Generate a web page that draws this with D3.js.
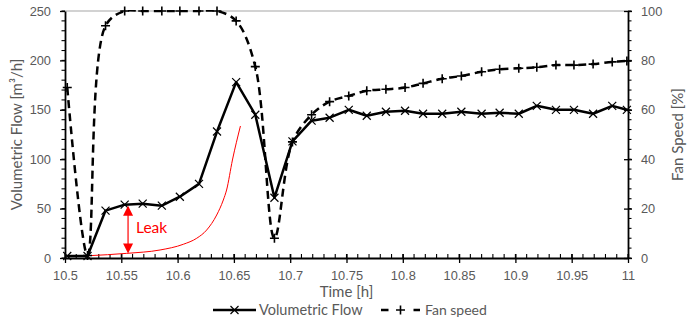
<!DOCTYPE html>
<html>
<head>
<meta charset="utf-8">
<script src="https://cdn.jsdelivr.net/npm/d3@7"></script>
<style>
  html, body { margin: 0; padding: 0; background: #fff; }
  svg { display: block; font-family: Lato, "Open Sans", sans-serif; }
</style>
</head>
<body>
<svg id="chart" width="688" height="320"></svg>
<script>
// Sample times [h]
const times = [10.502, 10.520, 10.536, 10.553, 10.569, 10.586, 10.602, 10.619, 10.635, 10.652,
               10.669, 10.686, 10.702, 10.719, 10.735, 10.752, 10.768, 10.785, 10.802, 10.818,
               10.835, 10.852, 10.870, 10.886, 10.903, 10.919, 10.936, 10.952, 10.969, 10.986, 10.999];
// Volumetric flow [m³/h]
const flow = [2, 2, 48, 54, 55, 53, 62, 75, 128, 178,
              145, 61, 118, 139, 142, 150, 144, 148, 149, 146,
              146, 148, 146, 147, 146, 154, 150, 150, 146, 154, 150];
// Fan speed [%]
const fanSpeed = [69, 1, 94, 100, 100, 100, 100, 100, 100, 96,
                  77.5, 8, 47, 58, 63.3, 65.6, 67.7, 68.3, 69, 70.7,
                  72.6, 73.7, 75.4, 76.4, 76.8, 77.2, 78.1, 78.1, 78.5, 79.4, 79.8];
// Leak baseline curve (time, flow)
const leakTimes = [10.5207, 10.5548, 10.5844, 10.6051, 10.617, 10.6258, 10.6347, 10.6406, 10.6435, 10.6487, 10.6558];
const leakFlow  = [2.3, 4.7, 8.1, 13.9, 20, 28.3, 43.5, 58.7, 68.8, 99.2, 133.6];
// Leak arrow: time and flow span
const leakArrowTime = 10.556;
const leakArrowSpan = [53, 4.5];

const xTicks = [10.5, 10.55, 10.6, 10.65, 10.7, 10.75, 10.8, 10.85, 10.9, 10.95, 11];
const yLeftTicks = [0, 50, 100, 150, 200, 250];
const yRightTicks = [0, 20, 40, 60, 80, 100];

const svg = d3.select("#chart");
const L = 65, R = 628, T = 11, B = 258;

const x = d3.scaleLinear().domain([10.5, 11]).range([L, R]);
const yL = d3.scaleLinear().domain([0, 250]).range([B, T]);
const yR = d3.scaleLinear().domain([0, 100]).range([B, T]);

const labelColor = "#595959";

// clip region for data lines
svg.append("defs").append("clipPath").attr("id", "plotClip")
  .append("rect").attr("x", L).attr("y", T - 1).attr("width", R - L).attr("height", B - T + 1);

// top border of plot area
svg.append("line").attr("x1", L).attr("x2", R).attr("y1", T).attr("y2", T)
  .attr("stroke", "#a6a6a6").attr("stroke-width", 1.2);

// --- Axes ---
function styleAxis(g) {
  g.select(".domain").attr("stroke", "#000").attr("stroke-width", 1.8);
  g.selectAll(".tick line").attr("stroke", "#000").attr("stroke-width", 1.3);
  g.selectAll(".tick text").attr("fill", labelColor).style("font-size", "12.8px");
}

// minor ticks
const xMinor = d3.range(10.5, 11.0001, 0.01);
svg.append("g").selectAll("line").data(xMinor).join("line")
  .attr("x1", d => x(d)).attr("x2", d => x(d)).attr("y1", B).attr("y2", B - 4)
  .attr("stroke", "#000").attr("stroke-width", 1.1);
const yLMinor = d3.range(0, 251, 10);
svg.append("g").selectAll("line").data(yLMinor).join("line")
  .attr("x1", L).attr("x2", L - 3.5).attr("y1", d => yL(d)).attr("y2", d => yL(d))
  .attr("stroke", "#000").attr("stroke-width", 1.1);
const yRMinor = d3.range(0, 101, 4);
svg.append("g").selectAll("line").data(yRMinor).join("line")
  .attr("x1", R).attr("x2", R + 3.5).attr("y1", d => yR(d)).attr("y2", d => yR(d))
  .attr("stroke", "#000").attr("stroke-width", 1.1);

const gx = svg.append("g").attr("transform", `translate(0,${B})`)
  .call(d3.axisBottom(x).tickValues(xTicks).tickFormat(d => d3.format("")(+d.toFixed(2)))
        .tickSizeInner(5).tickSizeOuter(0).tickPadding(8));
styleAxis(gx);
gx.selectAll(".tick line").attr("y1", -4);

const gyL = svg.append("g").attr("transform", `translate(${L},0)`)
  .call(d3.axisLeft(yL).tickValues(yLeftTicks).tickSizeInner(5).tickSizeOuter(0).tickPadding(9));
styleAxis(gyL);

const gyR = svg.append("g").attr("transform", `translate(${R},0)`)
  .call(d3.axisRight(yR).tickValues(yRightTicks).tickSizeInner(4).tickSizeOuter(0).tickPadding(9));
styleAxis(gyR);
gyR.selectAll(".tick line").attr("x1", -4);

// axis titles
svg.append("text").attr("x", (L + R) / 2).attr("y", 297).attr("text-anchor", "middle")
  .attr("fill", labelColor).style("font-size", "15px").text("Time [h]");
svg.append("text").attr("transform", `translate(22,${(T + B) / 2}) rotate(-90)`)
  .attr("text-anchor", "middle").attr("fill", labelColor).style("font-size", "15px")
  .text("Volumetric Flow [m³/h]");
svg.append("text").attr("transform", `translate(683,${(T + B) / 2}) rotate(-90)`)
  .attr("text-anchor", "middle").attr("fill", labelColor).style("font-size", "15px")
  .text("Fan Speed [%]");

const plot = svg.append("g").attr("clip-path", "url(#plotClip)");

// --- Leak baseline (red) ---
const leakPts = leakTimes.map((t, i) => [t, leakFlow[i]]);
plot.append("path")
  .attr("d", d3.line().x(d => x(d[0])).y(d => yL(d[1])).curve(d3.curveMonotoneX)(leakPts))
  .attr("fill", "none").attr("stroke", "#ff0000").attr("stroke-width", 1);

// --- Fan speed (dashed, smoothed) ---
const fanPts = times.map((t, i) => [t, fanSpeed[i]]);
plot.append("path")
  .attr("d", d3.line().x(d => x(d[0])).y(d => yR(d[1])).curve(d3.curveCatmullRom.alpha(0.5))(fanPts))
  .attr("fill", "none").attr("stroke", "#000").attr("stroke-width", 2.5)
  .attr("stroke-dasharray", "8,5");

// --- Volumetric flow ---
const flowPts = times.map((t, i) => [t, flow[i]]);
svg.append("path")
  .attr("d", d3.line().x(d => x(d[0])).y(d => yL(d[1]))(flowPts))
  .attr("fill", "none").attr("stroke", "#000").attr("stroke-width", 2.5)
  .attr("stroke-linejoin", "round");

// markers
const xMark = (cx, cy, s) => `M${cx - s},${cy - s}L${cx + s},${cy + s}M${cx - s},${cy + s}L${cx + s},${cy - s}`;
const plusMark = (cx, cy, s) => `M${cx - s},${cy}L${cx + s},${cy}M${cx},${cy - s}L${cx},${cy + s}`;

svg.append("g").selectAll("path").data(fanPts).join("path")
  .attr("d", d => plusMark(x(d[0]), yR(d[1]), 4.5))
  .attr("stroke", "#000").attr("stroke-width", 1.6).attr("fill", "none");
svg.append("g").selectAll("path").data(flowPts).join("path")
  .attr("d", d => xMark(x(d[0]), yL(d[1]), 4))
  .attr("stroke", "#000").attr("stroke-width", 1.2).attr("fill", "none");

// --- Leak arrow annotation ---
const ax = x(leakArrowTime);
const ay1 = yL(leakArrowSpan[0]), ay2 = yL(leakArrowSpan[1]);
svg.append("line").attr("x1", ax).attr("x2", ax).attr("y1", ay1 + 9).attr("y2", ay2 - 9)
  .attr("stroke", "#ff0000").attr("stroke-width", 1.2);
svg.append("path").attr("d", `M${ax},${ay1}L${ax - 5},${ay1 + 10}L${ax + 5},${ay1 + 10}Z`).attr("fill", "#ff0000");
svg.append("path").attr("d", `M${ax},${ay2}L${ax - 5},${ay2 - 10}L${ax + 5},${ay2 - 10}Z`).attr("fill", "#ff0000");
svg.append("text").attr("x", ax + 8).attr("y", 233).attr("fill", "#ff0000")
  .style("font-size", "15.5px").text("Leak");

// --- Legend ---
const ly = 310;
const lg = svg.append("g");
lg.append("line").attr("x1", 213).attr("x2", 256).attr("y1", ly).attr("y2", ly)
  .attr("stroke", "#000").attr("stroke-width", 2.5);
lg.append("path").attr("d", xMark(234.5, ly, 4)).attr("stroke", "#000").attr("stroke-width", 1.2);
lg.append("text").attr("x", 259).attr("y", ly + 5).attr("fill", labelColor)
  .style("font-size", "14.5px").text("Volumetric Flow");
lg.append("line").attr("x1", 381).attr("x2", 420).attr("y1", ly).attr("y2", ly)
  .attr("stroke", "#000").attr("stroke-width", 2.5).attr("stroke-dasharray", "7.5,25,7.5");
lg.append("path").attr("d", plusMark(400.5, ly, 4.5)).attr("stroke", "#000").attr("stroke-width", 1.6);
lg.append("text").attr("x", 425).attr("y", ly + 5).attr("fill", labelColor)
  .style("font-size", "14px").text("Fan speed");
</script>
</body>
</html>
